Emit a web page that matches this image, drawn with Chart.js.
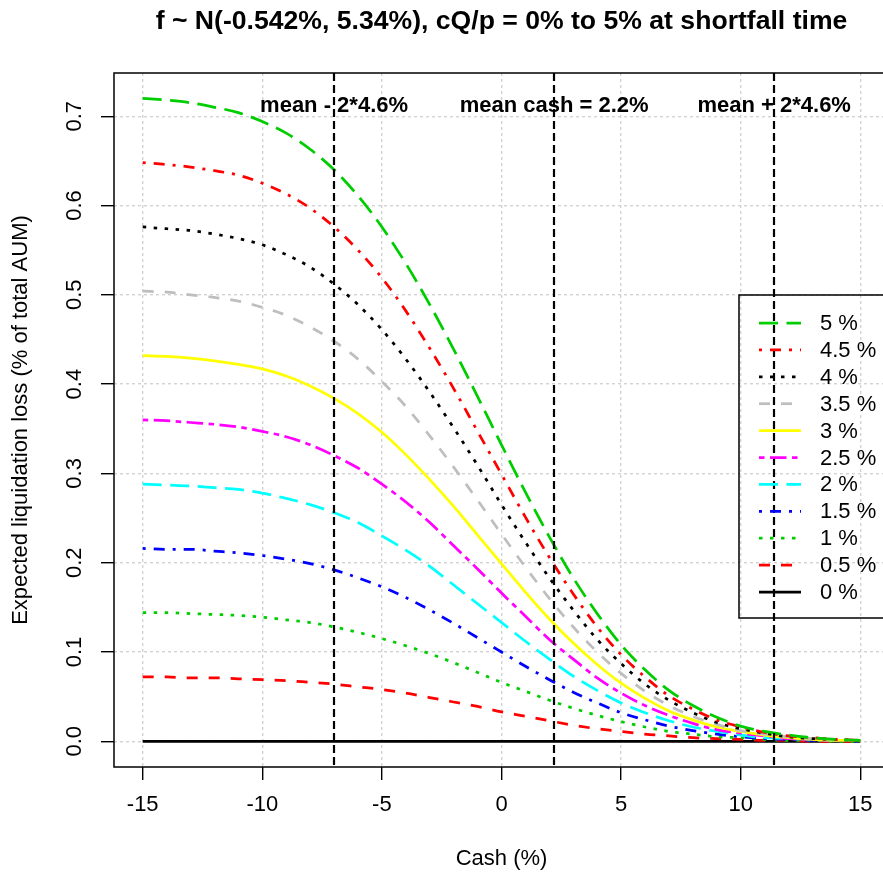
<!DOCTYPE html>
<html>
<head>
<meta charset="utf-8">
<title>Expected liquidation loss vs cash</title>
<script src="https://cdn.jsdelivr.net/npm/chart.js@4.4.1/dist/chart.umd.min.js"></script>
<style>
  html, body { margin: 0; padding: 0; background: #fff; }
  canvas { display: block; }
</style>
</head>
<body>
<canvas id="lossChart" width="883" height="876"></canvas>
<script>
// cash level (% of AUM)
const cash = [-15, -14, -13, -12, -11, -10, -9, -8, -7, -6, -5, -4, -3, -2, -1, 0,
              1, 2, 3, 4, 5, 6, 7, 8, 9, 10, 11, 12, 13, 14, 15];

// expected liquidation loss for each cQ/p level
const loss50 = [0.720, 0.718, 0.715, 0.710, 0.704, 0.694, 0.681, 0.663, 0.640, 0.611, 0.576, 0.535, 0.489, 0.439, 0.386, 0.332,
                0.279, 0.229, 0.183, 0.143, 0.108, 0.080, 0.057, 0.040, 0.027, 0.017, 0.011, 0.007, 0.004, 0.002, 0.001];
const loss45 = [0.648, 0.646, 0.643, 0.639, 0.634, 0.625, 0.613, 0.597, 0.576, 0.550, 0.519, 0.482, 0.440, 0.395, 0.347, 0.299,
                0.251, 0.206, 0.165, 0.128, 0.097, 0.072, 0.051, 0.036, 0.024, 0.016, 0.010, 0.006, 0.004, 0.002, 0.001];
const loss40 = [0.576, 0.574, 0.572, 0.568, 0.563, 0.556, 0.545, 0.531, 0.512, 0.489, 0.461, 0.428, 0.391, 0.351, 0.309, 0.265,
                0.223, 0.183, 0.147, 0.114, 0.087, 0.064, 0.046, 0.032, 0.021, 0.014, 0.009, 0.005, 0.003, 0.002, 0.001];
const loss35 = [0.504, 0.503, 0.500, 0.497, 0.493, 0.486, 0.477, 0.464, 0.448, 0.428, 0.403, 0.375, 0.342, 0.307, 0.270, 0.232,
                0.195, 0.160, 0.128, 0.100, 0.076, 0.056, 0.040, 0.028, 0.019, 0.012, 0.008, 0.005, 0.003, 0.002, 0.001];
const loss30 = [0.432, 0.431, 0.429, 0.426, 0.422, 0.417, 0.409, 0.398, 0.384, 0.367, 0.346, 0.321, 0.293, 0.263, 0.231, 0.199,
                0.167, 0.137, 0.110, 0.086, 0.065, 0.048, 0.034, 0.024, 0.016, 0.011, 0.007, 0.004, 0.002, 0.001, 0.001];
const loss25 = [0.360, 0.359, 0.357, 0.355, 0.352, 0.347, 0.341, 0.332, 0.320, 0.306, 0.288, 0.268, 0.245, 0.219, 0.193, 0.166,
                0.140, 0.114, 0.092, 0.071, 0.054, 0.040, 0.029, 0.020, 0.013, 0.009, 0.006, 0.003, 0.002, 0.001, 0.001];
const loss20 = [0.288, 0.287, 0.286, 0.284, 0.282, 0.278, 0.272, 0.265, 0.256, 0.245, 0.230, 0.214, 0.196, 0.175, 0.154, 0.133,
                0.112, 0.092, 0.073, 0.057, 0.043, 0.032, 0.023, 0.016, 0.011, 0.007, 0.004, 0.003, 0.002, 0.001, 0.001];
const loss15 = [0.216, 0.215, 0.215, 0.213, 0.211, 0.208, 0.204, 0.199, 0.192, 0.183, 0.173, 0.161, 0.147, 0.132, 0.116, 0.100,
                0.084, 0.069, 0.055, 0.043, 0.032, 0.024, 0.017, 0.012, 0.008, 0.005, 0.003, 0.002, 0.001, 0.001, 0.000];
const loss10 = [0.144, 0.144, 0.143, 0.142, 0.141, 0.139, 0.136, 0.133, 0.128, 0.122, 0.115, 0.107, 0.098, 0.088, 0.077, 0.066,
                0.056, 0.046, 0.037, 0.029, 0.022, 0.016, 0.011, 0.008, 0.005, 0.004, 0.002, 0.001, 0.001, 0.000, 0.000];
const loss05 = [0.072, 0.072, 0.071, 0.071, 0.070, 0.069, 0.068, 0.066, 0.064, 0.061, 0.058, 0.054, 0.049, 0.044, 0.039, 0.033,
                0.028, 0.023, 0.018, 0.014, 0.011, 0.008, 0.006, 0.004, 0.003, 0.002, 0.001, 0.001, 0.000, 0.000, 0.000];
const loss00 = [0, 0, 0, 0, 0, 0, 0, 0, 0, 0, 0, 0, 0, 0, 0, 0,
                0, 0, 0, 0, 0, 0, 0, 0, 0, 0, 0, 0, 0, 0, 0];

const seriesLabels = ['5 %', '4.5 %', '4 %', '3.5 %', '3 %', '2.5 %', '2 %', '1.5 %', '1 %', '0.5 %', '0 %'];
const seriesValues = [loss50, loss45, loss40, loss35, loss30, loss25, loss20, loss15, loss10, loss05, loss00];

// mean cash and +/- 2 sd markers
const refCash = [-7.0, 2.2, 11.4];
const refLabels = ['mean - 2*4.6%', 'mean cash = 2.2%', 'mean + 2*4.6%'];
const refLabelY = 0.711;

const xTicks = [-15, -10, -5, 0, 5, 10, 15];
const xTickLabels = ['-15', '-10', '-5', '0', '5', '10', '15'];
const yTicks = [0, 0.1, 0.2, 0.3, 0.4, 0.5, 0.6, 0.7];
const yTickLabels = ['0.0', '0.1', '0.2', '0.3', '0.4', '0.5', '0.6', '0.7'];

// plotting range, 4% beyond the data on each side
const xRange = [-16.2, 16.2];
const yRange = [-0.0288, 0.7484];

const titleText = 'f ~ N(-0.542%, 5.34%), cQ/p = 0% to 5% at shortfall time';
const xTitle = 'Cash (%)';
const yTitle = 'Expected liquidation loss (% of total AUM)';

// R-like palette and line types
const colors = ['#00CD00', '#FF0000', '#000000', '#BEBEBE', '#FFFF00', '#FF00FF',
                '#00FFFF', '#0000FF', '#00CD00', '#FF0000', '#000000'];
const LTY = {
  solid: [],
  dashed: [11, 11],
  dotted: [3.5, 7.5],
  dotdash: [3, 8, 11, 8],
  longdash: [19, 8.5],
  twodash: [5.5, 5.5, 16.5, 5.5]
};
const dashes = [LTY.longdash, LTY.dotdash, LTY.dotted, LTY.dashed, LTY.solid, LTY.twodash,
                LTY.longdash, LTY.dotdash, LTY.dotted, LTY.dashed, LTY.solid];

const FONT = '"Liberation Sans", Arial, Helvetica, sans-serif';

const datasets = seriesValues.map((vals, i) => ({
  label: seriesLabels[i],
  data: cash.map((x, j) => ({ x: x, y: vals[j] })),
  borderColor: colors[i],
  borderWidth: 2.75,
  borderDash: dashes[i],
  borderCapStyle: 'butt',
  pointRadius: 0,
  fill: false,
  cubicInterpolationMode: 'monotone'
}));

// the canvas cuts the plot region on the right, so the x scale stops
// at the canvas edge while keeping the same units per pixel
const PLOT_LEFT = 114, PLOT_TOP = 73, PLOT_BOTTOM = 767, CANVAS_W = 883;
const xMaxVisible = xRange[0] + (xRange[1] - xRange[0]) * (CANVAS_W - PLOT_LEFT) / 775;

// base-graphics style decorations: box, tick labels, titles, ablines, text, legend
const rDecor = {
  id: 'rDecor',
  afterDatasetsDraw(chart) {
    const ctx = chart.ctx;
    const area = chart.chartArea;
    const xs = chart.scales.x, ys = chart.scales.y;
    ctx.save();

    // vertical reference lines
    ctx.strokeStyle = '#000';
    ctx.lineWidth = 2.2;
    ctx.setLineDash([8, 4]);
    refCash.forEach(v => {
      const px = Math.round(xs.getPixelForValue(v));
      ctx.beginPath();
      ctx.moveTo(px, area.top);
      ctx.lineTo(px, area.bottom);
      ctx.stroke();
    });
    ctx.setLineDash([]);

    // labels over the reference lines
    ctx.fillStyle = '#000';
    ctx.font = 'bold 22px ' + FONT;
    ctx.textAlign = 'center';
    ctx.textBaseline = 'middle';
    refCash.forEach((v, i) => {
      ctx.fillText(refLabels[i], xs.getPixelForValue(v), ys.getPixelForValue(refLabelY));
    });

    // plot box (right side lies past the canvas edge)
    const boxRight = xs.getPixelForValue(xRange[1]);
    ctx.lineWidth = 1.5;
    ctx.strokeRect(area.left, area.top, boxRight - area.left, area.bottom - area.top);

    // tick labels
    ctx.font = '22px ' + FONT;
    ctx.textAlign = 'center';
    ctx.textBaseline = 'middle';
    xTicks.forEach((v, i) => {
      ctx.fillText(xTickLabels[i], xs.getPixelForValue(v), 805);
    });
    yTicks.forEach((v, i) => {
      ctx.save();
      ctx.translate(75, ys.getPixelForValue(v));
      ctx.rotate(-Math.PI / 2);
      ctx.fillText(yTickLabels[i], 0, 0);
      ctx.restore();
    });

    // axis titles, centred on the full plot region
    const cx = (area.left + boxRight) / 2;
    ctx.fillText(xTitle, cx, 859);
    ctx.save();
    ctx.translate(21, (area.top + area.bottom) / 2);
    ctx.rotate(-Math.PI / 2);
    ctx.fillText(yTitle, 0, 0);
    ctx.restore();

    // main title
    ctx.font = 'bold 26.6px ' + FONT;
    ctx.fillText(titleText, cx, 22);

    // legend
    const lg = { left: 739, top: 295, bottom: 618, row0: 323, rowStep: 26.9, lineX0: 759, lineX1: 801, textX: 820 };
    ctx.lineWidth = 1.5;
    ctx.strokeStyle = '#000';
    ctx.strokeRect(lg.left, lg.top, 200, lg.bottom - lg.top);
    chart.data.datasets.forEach((ds, i) => {
      const y = lg.row0 + i * lg.rowStep;
      ctx.strokeStyle = ds.borderColor;
      ctx.lineWidth = ds.borderWidth;
      ctx.lineCap = 'butt';
      ctx.setLineDash(ds.borderDash);
      ctx.beginPath();
      ctx.moveTo(lg.lineX0, y);
      ctx.lineTo(lg.lineX1, y);
      ctx.stroke();
      ctx.setLineDash([]);
      ctx.fillStyle = '#000';
      ctx.font = '22px ' + FONT;
      ctx.textAlign = 'left';
      ctx.fillText(ds.label, lg.textX, y + 1);
    });

    ctx.restore();
  }
};

const config = {
  type: 'line',
  data: { datasets: datasets },
  options: {
    responsive: false,
    animation: false,
    devicePixelRatio: 1,
    layout: { padding: { left: PLOT_LEFT, top: PLOT_TOP, right: 0, bottom: 876 - PLOT_BOTTOM } },
    plugins: {
      legend: { display: false },
      tooltip: { enabled: false },
      title: { display: false }
    },
    scales: {
      x: {
        type: 'linear',
        position: 'bottom',
        min: xRange[0],
        max: xMaxVisible,
        afterBuildTicks: scale => { scale.ticks = xTicks.map(v => ({ value: v })); },
        afterFit: scale => { scale.height = 0; },
        ticks: { display: false },
        border: { display: false, dash: [3, 3] },
        grid: {
          color: '#D3D3D3', lineWidth: 1.4,
          drawTicks: true, tickLength: 13, tickColor: '#000', tickWidth: 1.4
        }
      },
      y: {
        type: 'linear',
        position: 'left',
        min: yRange[0],
        max: yRange[1],
        afterBuildTicks: scale => { scale.ticks = yTicks.map(v => ({ value: v })); },
        afterFit: scale => { scale.width = 0; },
        ticks: { display: false },
        border: { display: false, dash: [3, 3] },
        grid: {
          color: '#D3D3D3', lineWidth: 1.4,
          drawTicks: true, tickLength: 13, tickColor: '#000', tickWidth: 1.4
        }
      }
    }
  },
  plugins: [rDecor]
};

const lossChart = new Chart(document.getElementById('lossChart'), config);
</script>
</body>
</html>
